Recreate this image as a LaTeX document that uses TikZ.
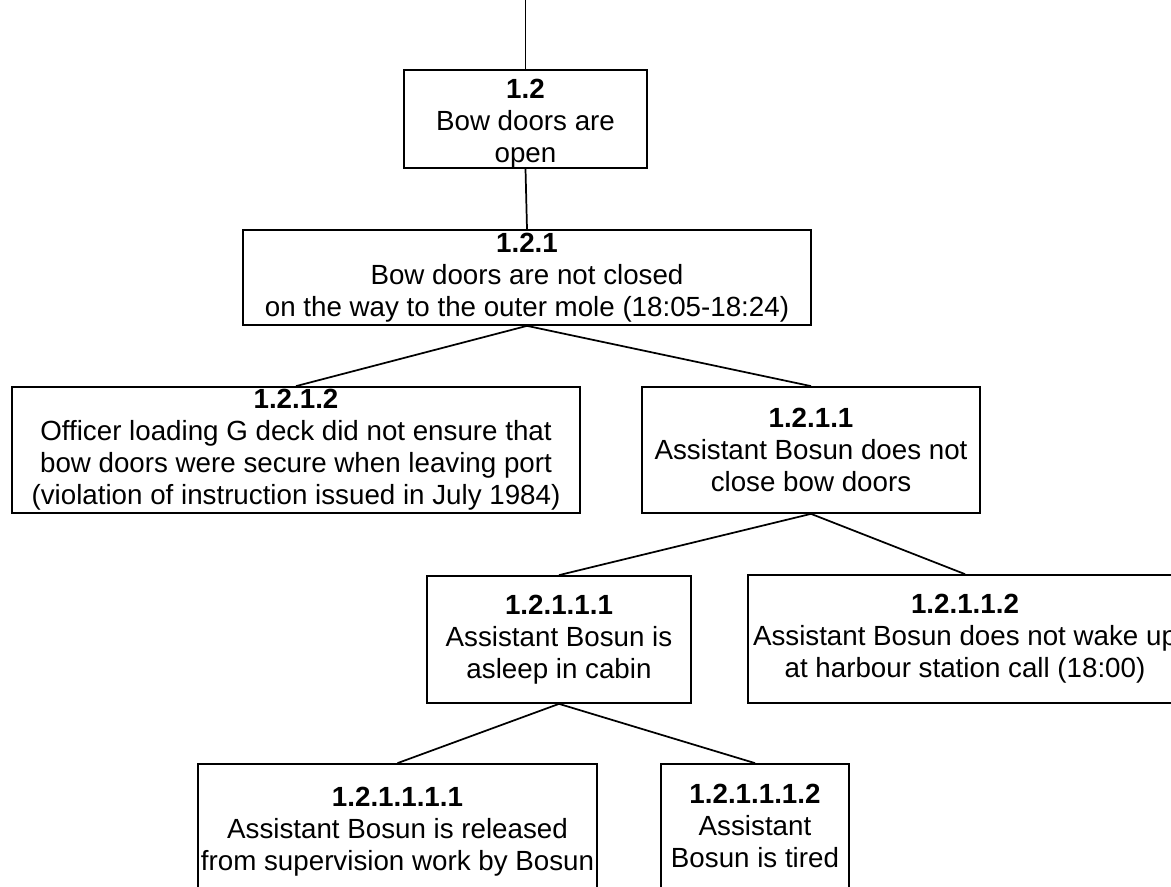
\documentclass[tikz,border=0pt]{standalone}
\usepackage{fontspec}
\setmainfont{Liberation Sans}
\begin{document}
\begin{tikzpicture}[x=0.75pt,y=-0.75pt,
  box/.style={draw, line width=1.3pt, align=center, inner sep=0pt,
    font=\fontsize{20.8}{24}\selectfont},
  wh/.style 2 args={minimum width=#1*0.75pt, minimum height=#2*0.75pt},
  link/.style={line width=1.3pt}]
\useasboundingbox (0,0) rectangle (1171,887);
\clip (0,0) rectangle (1171,887);

% fault tree boxes
\node[box, wh={243}{94}]  (n12)     at (525.5,119)  {\rule{0pt}{21pt}\textbf{1.2}\\Bow doors are\\open};
\node[box, wh={568}{95}]  (n121)    at (527,277.5)  {\textbf{1.2.1}\\Bow doors are not closed\\on the way to the outer mole (18:05-18:24)};
\node[box, wh={568}{126}] (n1212)   at (296,450)    {\textbf{1.2.1.2}\\Officer loading G deck did not ensure that\\bow doors were secure when leaving port\\(violation of instruction issued in July 1984)};
\node[box, wh={338}{126}] (n1211)   at (811,450)    {\textbf{1.2.1.1}\\Assistant Bosun does not\\close bow doors};
\node[box, wh={264}{127}] (n12111)  at (559,639.5)  {\textbf{1.2.1.1.1}\\Assistant Bosun is\\asleep in cabin};
\node[box, wh={434}{128}] (n12112)  at (965,639)    {\textbf{1.2.1.1.2}\\Assistant Bosun does not wake up\\at harbour station call (18:00)};
\node[box, wh={399}{136}] (n121111) at (397.5,832)  {\textbf{1.2.1.1.1.1}\\Assistant Bosun is released\\from supervision work by Bosun};
\node[box, wh={188}{124}] (n121112) at (755,826)    {\textbf{1.2.1.1.1.2}\\Assistant\\Bosun is tired};

% connectors
\coordinate (top) at (525.5,-2);
\draw[link] (top) -- (n12.north);
\draw[link] (n12.south) -- (n121.north);
\draw[link] (n121.south) -- (n1212.north);
\draw[link] (n121.south) -- (n1211.north);
\draw[link] (n1211.south) -- (n12111.north);
\draw[link] (n1211.south) -- (n12112.north);
\draw[link] (n12111.south) -- (n121111.north);
\draw[link] (n12111.south) -- (n121112.north);
\end{tikzpicture}
\end{document}
